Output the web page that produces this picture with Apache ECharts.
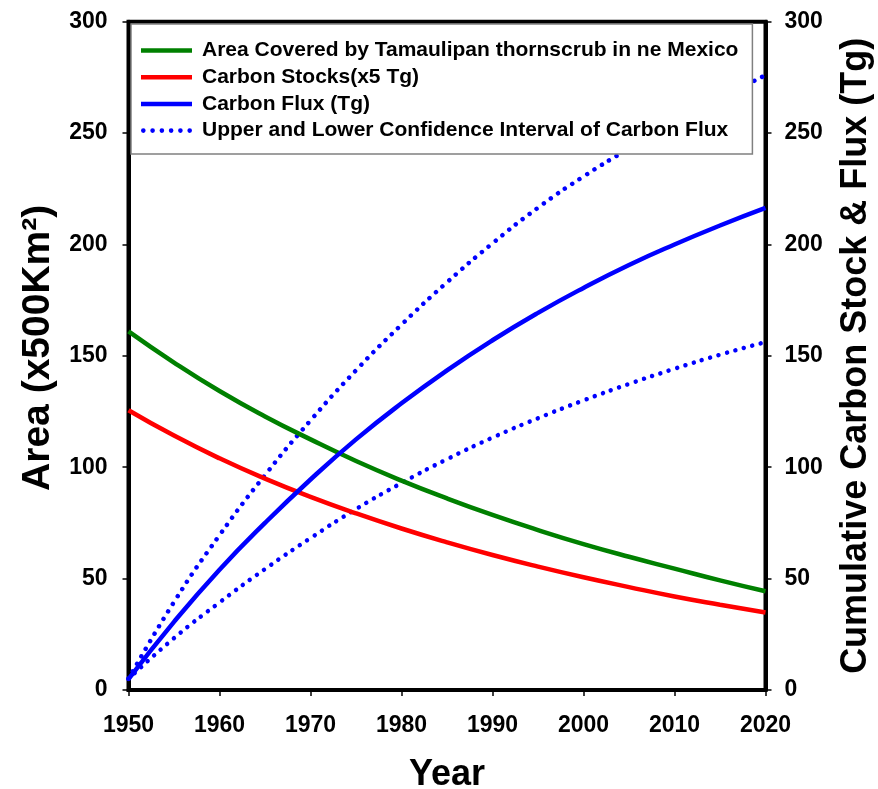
<!DOCTYPE html>
<html>
<head>
<meta charset="utf-8">
<script src="https://cdn.jsdelivr.net/npm/echarts@6/dist/echarts.min.js"></script>
<style>
html,body{margin:0;padding:0;background:#fff;}
#chart{width:878px;height:789px;}
</style>
</head>
<body>
<div id="chart"></div>
<script>
// ---- data ----
const years = [1950, 1955, 1960, 1965, 1970, 1975, 1980, 1985, 1990, 1995, 2000, 2005, 2010, 2015, 2020];
const areaCovered = [161, 147, 134.2, 122.8, 112.5, 102.8, 94, 86, 78.6, 71.8, 65.5, 59.8, 54.5, 49.2, 44.3];
const carbonStocks = [125.6, 114.2, 104, 94.9, 86.7, 79.3, 72.5, 66.3, 60.6, 55.4, 50.6, 46.2, 42, 38.3, 34.8];
const carbonFlux = [4.9, 30.6, 54, 75, 94.5, 112.5, 128.7, 143.5, 157, 169.3, 180.5, 190.8, 200, 208.5, 216.4];
const fluxUpper = [5, 39.5, 69.5, 96.5, 121, 143.5, 164, 183, 200.5, 216.5, 230.5, 243, 254.5, 265.5, 276];
const fluxLower = [5, 23.3, 39.3, 54.3, 68.2, 81.2, 92.9, 103.6, 113.3, 122, 130, 137.4, 144.2, 150.5, 156.2];
const xTicks = [1950, 1960, 1970, 1980, 1990, 2000, 2010, 2020];
const yTicks = [0, 50, 100, 150, 200, 250, 300];

const names = {
  area: 'Area Covered by Tamaulipan thornscrub in ne Mexico',
  stock: 'Carbon Stocks(x5 Tg)',
  flux: 'Carbon Flux (Tg)',
  ci: 'Upper and Lower Confidence Interval of Carbon Flux'
};

const pairs = arr => years.map((y, i) => [y, arr[i]]);
const FONT = 'Liberation Sans, Arial, sans-serif';

// legend icons: a solid bar and a row of round dots
const solidIcon = 'path://M0,0 H51 V4.5 H0 Z';
let dotPath = 'path://';
for (let k = 0; k < 6; k++) {
  const cx = 2.25 + k * 9;
  dotPath += 'M' + (cx - 2.25) + ',2.25 a2.25,2.25 0 1,0 4.5,0 a2.25,2.25 0 1,0 -4.5,0 ';
}

const chart = echarts.init(document.getElementById('chart'), null, {renderer: 'canvas'});

const axisLabelBase = {fontFamily: FONT, fontWeight: 'bold', fontSize: 23, color: '#000'};
const dotted = {width: 4.5, type: [0.01, 8.7], cap: 'round', color: '#0000FF'};
const smoothCfg = {smooth: true};

chart.setOption({
  animation: false,
  backgroundColor: '#fff',
  grid: {
    left: 128.5, right: 112.5, top: 21.7, bottom: 99,
    containLabel: false, outerBoundsMode: 'none',
    show: true, borderColor: '#000', borderWidth: 4, backgroundColor: 'transparent'
  },
  legend: {
    data: [
      {name: names.area, icon: solidIcon},
      {name: names.stock, icon: solidIcon},
      {name: names.flux, icon: solidIcon},
      {name: names.ci, icon: dotPath}
    ],
    orient: 'vertical', left: 131, top: 24,
    padding: [16, 14, 13, 10],
    itemWidth: 51, itemHeight: 14, itemGap: 5.7,
    backgroundColor: '#fff', borderColor: '#808080', borderWidth: 1.5,
    textStyle: {fontFamily: FONT, fontWeight: 'bold', fontSize: 21, color: '#000', lineHeight: 21, padding: [0, 0, 0, 5]},
    z: 10
  },
  xAxis: {
    type: 'value', min: xTicks[0], max: xTicks[xTicks.length - 1], interval: 10,
    name: 'Year', nameLocation: 'middle', nameGap: 67,
    nameTextStyle: {fontFamily: FONT, fontWeight: 'bold', fontSize: 36, color: '#000'},
    axisLine: {show: true, lineStyle: {color: '#000', width: 4}},
    axisTick: {show: true, length: 6, lineStyle: {color: '#000', width: 1.5}},
    axisLabel: Object.assign({margin: 24, formatter: v => String(v)}, axisLabelBase),
    splitLine: {show: false}
  },
  yAxis: [
    {
      type: 'value', position: 'left', min: yTicks[0], max: yTicks[yTicks.length - 1], interval: 50,
      name: 'Area (x500Km²)', nameLocation: 'middle', nameGap: 70, nameRotate: 90,
      nameTextStyle: {fontFamily: FONT, fontWeight: 'bold', fontSize: 39, color: '#000', padding: [0, 0, 0, 16]},
      axisLine: {show: true, lineStyle: {color: '#000', width: 4}},
      axisTick: {show: true, length: 6, lineStyle: {color: '#000', width: 1.5}},
      axisLabel: Object.assign({margin: 21}, axisLabelBase),
      splitLine: {show: false}
    },
    {
      type: 'value', position: 'right', min: yTicks[0], max: yTicks[yTicks.length - 1], interval: 50,
      name: 'Cumulative Carbon Stock & Flux (Tg)', nameLocation: 'middle', nameGap: 73, nameRotate: 90,
      nameTextStyle: {fontFamily: FONT, fontWeight: 'bold', fontSize: 36, color: '#000'},
      axisLine: {show: true, lineStyle: {color: '#000', width: 4}},
      axisTick: {show: true, length: 6, lineStyle: {color: '#000', width: 1.5}},
      axisLabel: Object.assign({margin: 19}, axisLabelBase),
      splitLine: {show: false}
    }
  ],
  series: [
    Object.assign({
      name: names.ci, type: 'line', yAxisIndex: 1, data: pairs(fluxUpper),
      symbol: 'none', lineStyle: dotted, itemStyle: {color: '#0000FF'}
    }, smoothCfg),
    Object.assign({
      name: names.ci, type: 'line', yAxisIndex: 1, data: pairs(fluxLower),
      symbol: 'none', lineStyle: dotted, itemStyle: {color: '#0000FF'}
    }, smoothCfg),
    Object.assign({
      name: names.area, type: 'line', yAxisIndex: 0, data: pairs(areaCovered),
      symbol: 'none', lineStyle: {width: 4.5, color: '#008000'}, itemStyle: {color: '#008000'}
    }, smoothCfg),
    Object.assign({
      name: names.stock, type: 'line', yAxisIndex: 1, data: pairs(carbonStocks),
      symbol: 'none', lineStyle: {width: 4.5, color: '#FF0000'}, itemStyle: {color: '#FF0000'}
    }, smoothCfg),
    Object.assign({
      name: names.flux, type: 'line', yAxisIndex: 1, data: pairs(carbonFlux),
      symbol: 'none', lineStyle: {width: 4.5, color: '#0000FF'}, itemStyle: {color: '#0000FF'}
    }, smoothCfg)
  ]
});
</script>
</body>
</html>
